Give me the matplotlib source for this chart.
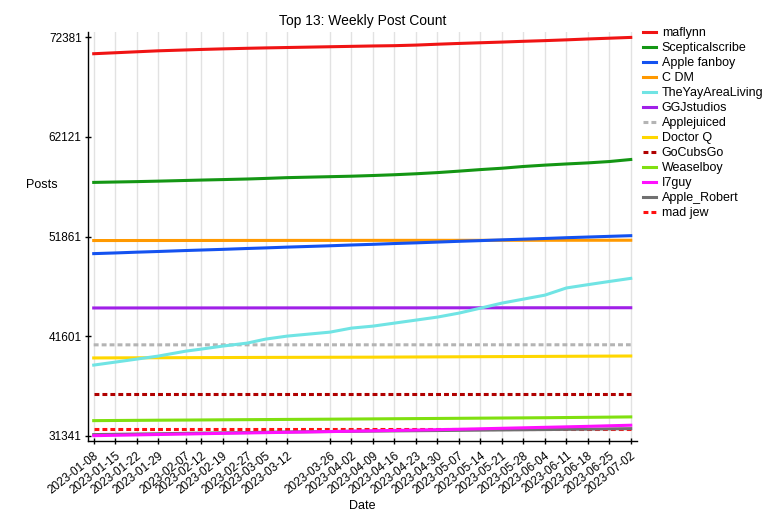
import numpy as np
import matplotlib
matplotlib.use('Agg')
import matplotlib.pyplot as plt

plt.rcParams['font.family'] = ['Liberation Sans', 'DejaVu Sans']

# weekly snapshots
dates = np.array(['2023-01-08', '2023-01-15', '2023-01-22', '2023-01-29', '2023-02-07',
                  '2023-02-12', '2023-02-19', '2023-02-27', '2023-03-05', '2023-03-12',
                  '2023-03-26', '2023-04-02', '2023-04-09', '2023-04-16', '2023-04-23',
                  '2023-04-30', '2023-05-07', '2023-05-14', '2023-05-21', '2023-05-28',
                  '2023-06-04', '2023-06-11', '2023-06-18', '2023-06-25', '2023-07-02'],
                 dtype='datetime64[D]')

maflynn = [70700, 70800, 70900, 71000, 71090, 71140, 71200, 71260, 71300, 71340,
           71420, 71460, 71500, 71530, 71590, 71680, 71760, 71830, 71900, 71980,
           72050, 72130, 72220, 72300, 72381]
scepticalscribe = [57440, 57480, 57520, 57570, 57640, 57680, 57730, 57790, 57850, 57930,
                   58030, 58080, 58150, 58230, 58330, 58450, 58600, 58760, 58900, 59080,
                   59220, 59340, 59450, 59590, 59800]
apple_fanboy = [50100, 50170, 50250, 50320, 50420, 50470, 50540, 50630, 50690, 50770,
                50910, 50990, 51060, 51140, 51210, 51290, 51370, 51440, 51520, 51590,
                51660, 51740, 51810, 51880, 51950]
c_dm = [51450, 51450, 51452, 51453, 51455, 51456, 51458, 51460, 51460, 51462,
        51464, 51465, 51466, 51468, 51469, 51470, 51471, 51472, 51473, 51474,
        51475, 51476, 51477, 51478, 51480]
yayarea = [38614, 38920, 39230, 39540, 40050, 40260, 40570, 40880, 41290, 41600,
           42010, 42425, 42630, 42940, 43250, 43560, 43970, 44480, 45000, 45410,
           45820, 46560, 46900, 47230, 47550]
ggjstudios = [44500, 44501, 44502, 44503, 44504, 44505, 44506, 44507, 44508, 44509,
              44510, 44511, 44512, 44513, 44514, 44515, 44516, 44517, 44518, 44519,
              44520, 44521, 44522, 44523, 44524]
applejuiced = [40700, 40700, 40700, 40701, 40701, 40701, 40702, 40702, 40702, 40703,
               40703, 40703, 40704, 40704, 40704, 40705, 40705, 40705, 40706, 40706,
               40706, 40707, 40707, 40707, 40708]
doctor_q = [39350, 39360, 39365, 39370, 39380, 39385, 39390, 39400, 39405, 39410,
            39420, 39425, 39430, 39440, 39450, 39460, 39470, 39480, 39490, 39500,
            39510, 39520, 39530, 39540, 39550]
gocubsgo = [35622, 35622, 35622, 35622, 35622, 35622, 35622, 35622, 35622, 35622,
            35622, 35622, 35622, 35622, 35622, 35622, 35622, 35622, 35622, 35622,
            35622, 35622, 35622, 35622, 35622]
weaselboy = [32890, 32905, 32920, 32935, 32950, 32960, 32975, 32990, 33000, 33015,
             33040, 33055, 33070, 33085, 33100, 33115, 33130, 33145, 33160, 33175,
             33190, 33210, 33230, 33250, 33275]
i7guy = [31341, 31380, 31420, 31460, 31510, 31540, 31580, 31620, 31650, 31690,
         31760, 31800, 31840, 31880, 31920, 31960, 32000, 32050, 32100, 32150,
         32200, 32250, 32300, 32360, 32416]
apple_robert = [31450, 31480, 31510, 31540, 31580, 31600, 31630, 31660, 31690, 31720,
                31770, 31790, 31810, 31830, 31850, 31870, 31890, 31910, 31930, 31950,
                31970, 31990, 32010, 32040, 32065]
mad_jew = [32030, 32030, 32030, 32030, 32030, 32030, 32030, 32030, 32030, 32030,
           32030, 32030, 32030, 32030, 32030, 32030, 32030, 32030, 32030, 32030,
           32030, 32030, 32030, 32030, 32030]

names = ['maflynn', 'Scepticalscribe', 'Apple fanboy', 'C DM', 'TheYayAreaLiving',
         'GGJstudios', 'Applejuiced', 'Doctor Q', 'GoCubsGo', 'Weaselboy', 'I7guy',
         'Apple_Robert', 'mad jew']
series = [maflynn, scepticalscribe, apple_fanboy, c_dm, yayarea, ggjstudios, applejuiced,
          doctor_q, gocubsgo, weaselboy, i7guy, apple_robert, mad_jew]
colors = ['#f01414', '#149614', '#1452f0', '#ff9900', '#70e4e4', '#a020e8', '#b4b4b4',
          '#ffd700', '#b00000', '#80e010', '#ff10ff', '#707070', '#ff1010']
dash = (0, (1.6, 1.0))
styles = ['-', '-', '-', '-', '-', '-', dash, '-', dash, '-', '-', '-', dash]

yticks = [31341, 41601, 51861, 62121, 72381]

fig = plt.figure(figsize=(7.75, 5.25), dpi=100)
ax = fig.add_axes([0.113, 0.16, 0.7088, 0.7789])

handles = []
n = len(series)
for i in range(n):
    line, = ax.plot(dates, series[i], color=colors[i], linestyle=styles[i],
                    linewidth=2.2, zorder=3 + (n - i) * 0.1)
    handles.append(line)

ax.set_xlim(dates[0] - np.timedelta64(2, 'D'), dates[-1] + np.timedelta64(2, 'D'))
ax.set_ylim(yticks[0] - 550, yticks[-1] + 550)
ax.set_xticks(dates)
ax.set_xticklabels([str(d) for d in dates], rotation=38, ha='right',
                   rotation_mode='anchor', fontsize=8.5)
ax.set_yticks(yticks)
ax.set_yticklabels([str(v) for v in yticks], fontsize=8.5)
ax.tick_params(axis='both', direction='inout', length=4.5, width=1.0, color='black')
ax.tick_params(axis='x', pad=4)
ax.tick_params(axis='y', pad=2)

for s in ['top', 'right']:
    ax.spines[s].set_visible(False)
for s in ['left', 'bottom']:
    ax.spines[s].set_linewidth(1.0)

ax.grid(axis='x', color='#e2e2e2', linewidth=1.0)
ax.set_axisbelow(True)

ax.set_title('Top 13: Weekly Post Count', fontsize=10, pad=5)
ax.set_xlabel('Date', fontsize=9, va='center')
ax.xaxis.set_label_coords(0.5, -0.159)
ax.set_ylabel('Posts', fontsize=9, rotation=0, ha='center', va='center')
ax.yaxis.set_label_coords(-0.083, 0.626)

fig.legend(handles, names, loc='upper left', bbox_to_anchor=(0.8297, 0.9486),
           frameon=False, fontsize=9, borderpad=0, borderaxespad=0,
           handlelength=1.05, handletextpad=0.45, labelspacing=0.24)

fig.savefig('out.png', dpi=100)
